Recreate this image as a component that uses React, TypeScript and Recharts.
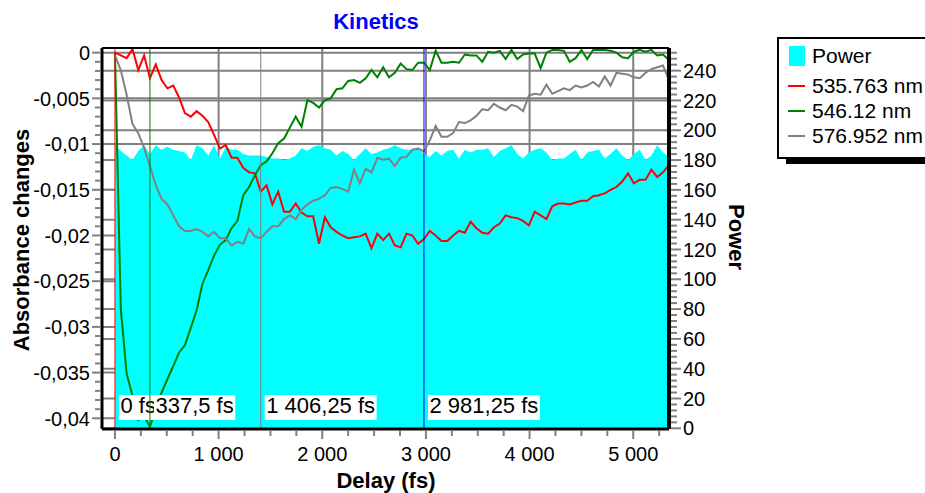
import { ComposedChart, Area, Line, XAxis, YAxis, CartesianGrid, ReferenceLine } from "recharts"

// delay (fs)
const delays = [
  0, 56.25, 112.5, 168.75, 225, 281.25, 337.5, 393.75, 450, 506.25,
  562.5, 618.75, 675, 731.25, 787.5, 843.75, 900, 956.25, 1012.5, 1068.75,
  1125, 1181.25, 1237.5, 1293.75, 1350, 1406.25, 1462.5, 1518.75, 1575, 1631.25,
  1687.5, 1743.75, 1800, 1856.25, 1912.5, 1968.75, 2025, 2081.25, 2137.5, 2193.75,
  2250, 2306.25, 2362.5, 2418.75, 2475, 2531.25, 2587.5, 2643.75, 2700, 2756.25,
  2812.5, 2868.75, 2925, 2981.25, 3037.5, 3093.75, 3150, 3206.25, 3262.5, 3318.75,
  3375, 3431.25, 3487.5, 3543.75, 3600, 3656.25, 3712.5, 3768.75, 3825, 3881.25,
  3937.5, 3993.75, 4050, 4106.25, 4162.5, 4218.75, 4275, 4331.25, 4387.5, 4443.75,
  4500, 4556.25, 4612.5, 4668.75, 4725, 4781.25, 4837.5, 4893.75, 4950, 5006.25,
  5062.5, 5118.75, 5175, 5231.25, 5287.5, 5343.75,
]

const power = [
  190, 186, 183, 180, 186, 190, 184, 190, 187, 189,
  187, 186, 185, 180, 190, 188, 183, 190, 181, 189,
  187, 187, 184, 183, 183, 183, 182, 181, 181, 180,
  181, 183, 188, 186, 189, 190, 188, 187, 183, 186,
  184, 180, 184, 188, 184, 185, 187, 188, 190, 188,
  187, 187, 188, 184, 182, 186, 183, 186, 187, 181,
  187, 185, 187, 187, 188, 182, 186, 188, 190, 184,
  181, 185, 187, 188, 185, 180, 181, 181, 184, 187,
  180, 185, 186, 187, 181, 184, 188, 183, 180, 184,
  187, 180, 183, 190, 185, 182,
]

const nm535 = [
  0, -0.0003, -0.0006, 0.0004, -0.0019, -0.0003, -0.0028, -0.0013, -0.003, -0.0039,
  -0.0036, -0.0049, -0.0066, -0.007, -0.0064, -0.0069, -0.0076, -0.009, -0.0105, -0.0101,
  -0.0115, -0.0115, -0.0126, -0.0131, -0.0132, -0.0152, -0.0145, -0.0166, -0.0152, -0.0174,
  -0.0174, -0.0165, -0.0175, -0.0179, -0.0179, -0.0209, -0.018, -0.0191, -0.0196, -0.02,
  -0.0203, -0.0202, -0.0201, -0.0198, -0.0214, -0.0198, -0.0205, -0.0198, -0.0211, -0.0213,
  -0.0198, -0.02, -0.0209, -0.0204, -0.0195, -0.02, -0.0206, -0.0206, -0.02, -0.0195,
  -0.0197, -0.0185, -0.0192, -0.0197, -0.0198, -0.0191, -0.0187, -0.0178, -0.018, -0.0181,
  -0.0184, -0.0189, -0.0174, -0.0178, -0.0182, -0.0168, -0.0165, -0.0165, -0.0166, -0.0164,
  -0.0162, -0.0162, -0.0157, -0.0156, -0.0154, -0.015, -0.0147, -0.0141, -0.0132, -0.0143,
  -0.0139, -0.0139, -0.0128, -0.0136, -0.0131, -0.0123,
]

const nm546 = [
  0, -0.028, -0.0351, -0.0375, -0.0402, -0.0398, -0.0409, -0.039, -0.0372, -0.0357,
  -0.0343, -0.0328, -0.032, -0.0301, -0.0282, -0.0253, -0.0238, -0.0222, -0.021, -0.0205,
  -0.0192, -0.0184, -0.0156, -0.0147, -0.0134, -0.0123, -0.0119, -0.011, -0.0099, -0.0094,
  -0.0082, -0.007, -0.0081, -0.0052, -0.0055, -0.006, -0.0052, -0.005, -0.004, -0.0039,
  -0.0031, -0.003, -0.0033, -0.0028, -0.0019, -0.0027, -0.0016, -0.0027, -0.0022, -0.0012,
  -0.0018, -0.0019, -0.0011, -0.0011, -0.0019, 0.0002, -0.0011, -0.0011, -0.001, -0.0011,
  -0.0002, -0.0003, -0.0003, -0.001, 0.0001, 0, 0.0002, -0.0007, 0.0003, -0.0007,
  -0.0002, -0.0001, -0.0001, -0.0017, 0, 0.0003, 0.0003, 0.0002, -0.001, -0.0006,
  0.0003, -0.0007, 0.0003, 0.0003, 0.0003, 0.0002, 0, -0.0005, -0.0006, 0.0001,
  0.0003, 0.0001, 0.0003, -0.0003, -0.0002, -0.0008,
]

const nm577 = [
  -0.0003, -0.0019, -0.0046, -0.0078, -0.0088, -0.0104, -0.0124, -0.0145, -0.016, -0.0166,
  -0.0178, -0.019, -0.0195, -0.0195, -0.0193, -0.0196, -0.0201, -0.0196, -0.0203, -0.0203,
  -0.0211, -0.0207, -0.0209, -0.0193, -0.0201, -0.0203, -0.0196, -0.019, -0.019, -0.0182,
  -0.0178, -0.0182, -0.0172, -0.0166, -0.0162, -0.016, -0.0156, -0.0148, -0.0147, -0.0149,
  -0.0152, -0.0128, -0.0143, -0.0127, -0.0131, -0.0115, -0.0117, -0.0116, -0.0124, -0.0115,
  -0.0114, -0.0106, -0.0105, -0.0108, -0.0096, -0.008, -0.0092, -0.0092, -0.0088, -0.0076,
  -0.0077, -0.0074, -0.0069, -0.0062, -0.0063, -0.0056, -0.006, -0.0063, -0.0057, -0.0059,
  -0.0064, -0.0047, -0.0045, -0.0046, -0.0035, -0.0045, -0.0042, -0.0039, -0.0041, -0.0036,
  -0.0038, -0.0036, -0.0032, -0.0037, -0.0026, -0.0036, -0.0022, -0.0023, -0.0024, -0.0027,
  -0.0028, -0.0022, -0.0018, -0.0016, -0.0014, -0.003,
]

const xMajorTicks = [0, 1000, 2000, 3000, 4000, 5000]
const xTickLabels = ["0", "1 000", "2 000", "3 000", "4 000", "5 000"]
const leftMajorTicks = [0, -0.005, -0.01, -0.015, -0.02, -0.025, -0.03, -0.035, -0.04]
const leftTickLabels = ["0", "-0,005", "-0,01", "-0,015", "-0,02", "-0,025", "-0,03", "-0,035", "-0,04"]
const rightMajorTicks = [0, 20, 40, 60, 80, 100, 120, 140, 160, 180, 200, 220, 240]
const rightTickLabels = ["0", "20", "40", "60", "80", "100", "120", "140", "160", "180", "200", "220", "240"]

const markerDelays = [0, 337.5, 1406.25, 2981.25]
const markerLabels = ["0 fs", "337,5 fs", "1 406,25 fs", "2 981,25 fs"]
const markerColors = ["#ff0000", "#008000", "#808080", "#0000ff"]

const FONT = "'Liberation Sans', Arial, sans-serif"

// minor ticks (decoration only)
const xTicks: number[] = []
for (let v = 0; v <= 5250; v += 250) xTicks.push(v)
const leftTicks: number[] = []
for (let k = 0; k <= 40; k++) leftTicks.push(-k / 1000)
const rightTicks: number[] = []
for (let v = 0; v <= 252; v += 4) rightTicks.push(v)

const rows = delays.map((t, i) => ({
  t,
  power: power[i],
  a535: nm535[i],
  a546: nm546[i],
  a577: nm577[i],
}))

const findIdx = (arr: number[], v: number) => arr.findIndex((m) => Math.abs(m - v) < 1e-9)

const XTick = (props: any) => {
  const { x, y, payload } = props
  const i = findIdx(xMajorTicks, payload.value)
  return (
    <g>
      <line x1={x} x2={x} y1={y + 1} y2={y + (i >= 0 ? 10 : 7)} stroke="#808080" strokeWidth={2} />
      {i >= 0 && (
        <text x={x} y={y + 32} textAnchor="middle" fontSize={20} fontFamily={FONT} fill="#000">
          {xTickLabels[i]}
        </text>
      )}
    </g>
  )
}

const LeftTick = (props: any) => {
  const { x, y, payload } = props
  const i = findIdx(leftMajorTicks, payload.value)
  return (
    <g>
      <line x1={x - 2} x2={x - (i >= 0 ? 10 : 7)} y1={y} y2={y} stroke="#808080" strokeWidth={2} />
      {i >= 0 && (
        <text x={x - 12} y={y} dy="0.36em" textAnchor="end" fontSize={20} fontFamily={FONT} fill="#000">
          {leftTickLabels[i]}
        </text>
      )}
    </g>
  )
}

const RightTick = (props: any) => {
  const { x, y, payload } = props
  const i = findIdx(rightMajorTicks, payload.value)
  return (
    <g>
      <line x1={x + 2} x2={x + (i >= 0 ? 12 : 8)} y1={y} y2={y} stroke="#808080" strokeWidth={2} />
      {i >= 0 && (
        <text x={x + 14} y={y} dy="0.36em" textAnchor="start" fontSize={20} fontFamily={FONT} fill="#000">
          {rightTickLabels[i]}
        </text>
      )}
    </g>
  )
}

// rough Arial widths, for the white label boxes
const charW: Record<string, number> = { " ": 0.278, ",": 0.278, f: 0.278, s: 0.5 }
const textWidth = (s: string, size: number) =>
  s.split("").reduce((w, c) => w + (charW[c] ?? 0.556), 0) * size

const markerLabel = (text: string) => (props: any) => {
  const vb = props.viewBox
  if (!vb) return null
  const bottom = vb.y + vb.height
  return (
    <g>
      <rect x={vb.x + 4} y={bottom - 34} width={textWidth(text, 22) + 3} height={25} fill="#ffffff" />
      <text x={vb.x + 5.5} y={bottom - 16} fontSize={22} fontFamily={FONT} fill="#000">
        {text}
      </text>
    </g>
  )
}

function Overlay() {
  return (
    <svg width={925} height={493} style={{ position: "absolute", left: 0, top: 0, pointerEvents: "none" }}>
      <text x={376} y={29} textAnchor="middle" fontSize={22} fontWeight="bold" fill="#0000ff" fontFamily={FONT}>
        Kinetics
      </text>
      <text x={386} y={488} textAnchor="middle" fontSize={22} fontWeight="bold" fill="#000" fontFamily={FONT}>
        Delay (fs)
      </text>
      <text
        transform="translate(29,240) rotate(-90)"
        textAnchor="middle"
        fontSize={22}
        fontWeight="bold"
        fill="#000"
        fontFamily={FONT}
      >
        Absorbance changes
      </text>
      <text
        transform="translate(729,237) rotate(90)"
        textAnchor="middle"
        fontSize={22}
        fontWeight="bold"
        fill="#000"
        fontFamily={FONT}
      >
        Power
      </text>

      {/* legend */}
      <rect x={786} y={43} width={170} height={121} fill="#000" />
      <rect x={778} y={38} width={170} height={120} fill="#fff" stroke="#000" strokeWidth={2} />
      <rect x={789} y={46} width={16} height={20} fill="#00ffff" />
      <text x={812} y={63} fontSize={21} fontFamily={FONT} fill="#000">Power</text>
      <line x1={788} x2={805} y1={86} y2={86} stroke="#ff0000" strokeWidth={2} />
      <text x={812} y={93} fontSize={21} fontFamily={FONT} fill="#000">535.763 nm</text>
      <line x1={788} x2={805} y1={111} y2={111} stroke="#008000" strokeWidth={2} />
      <text x={812} y={118} fontSize={21} fontFamily={FONT} fill="#000">546.12 nm</text>
      <line x1={788} x2={805} y1={136} y2={136} stroke="#808080" strokeWidth={2} />
      <text x={812} y={143} fontSize={21} fontFamily={FONT} fill="#000">576.952 nm</text>
    </svg>
  )
}

export default function App() {
  return (
    <div
      style={{
        position: "absolute",
        left: 0,
        top: 0,
        width: 925,
        height: 493,
        overflow: "hidden",
        background: "#fff",
        fontFamily: FONT,
      }}
    >
      <ComposedChart
        width={925}
        height={493}
        data={rows}
        margin={{ top: 48, right: 196, bottom: 24, left: 0 }}
      >
        <CartesianGrid
          yAxisId="left"
          horizontalValues={leftMajorTicks}
          verticalValues={xMajorTicks.slice(1)}
          stroke="#808080"
          strokeWidth={2}
        />
        <CartesianGrid
          yAxisId="right"
          horizontalValues={rightMajorTicks}
          vertical={false}
          stroke="#808080"
          strokeWidth={2}
        />
        <XAxis
          dataKey="t"
          type="number"
          domain={[-125, 5345]}
          allowDataOverflow
          ticks={xTicks}
          interval={0}
          tickSize={0}
          tickMargin={0}
          tickLine={false}
          tick={XTick}
          axisLine={{ stroke: "#000", strokeWidth: 3 }}
          height={40}
        />
        <YAxis
          yAxisId="left"
          type="number"
          domain={[-0.04117, 0.00051]}
          allowDataOverflow
          ticks={leftTicks}
          interval={0}
          tickSize={0}
          tickMargin={0}
          tickLine={false}
          tick={LeftTick}
          axisLine={{ stroke: "#000", strokeWidth: 3 }}
          width={102}
        />
        <YAxis
          yAxisId="right"
          orientation="right"
          type="number"
          domain={[-0.47, 255.2]}
          allowDataOverflow
          ticks={rightTicks}
          interval={0}
          tickSize={0}
          tickMargin={0}
          tickLine={false}
          tick={RightTick}
          axisLine={{ stroke: "#000", strokeWidth: 4 }}
          width={60}
        />
        <Area
          yAxisId="right"
          dataKey="power"
          name="Power"
          type="linear"
          fill="#00ffff"
          fillOpacity={1}
          stroke="none"
          isAnimationActive={false}
        />
        <Line yAxisId="left" dataKey="a535" name="535.763 nm" type="linear" stroke="#ff0000" strokeWidth={2} dot={false} isAnimationActive={false} />
        <Line yAxisId="left" dataKey="a546" name="546.12 nm" type="linear" stroke="#008000" strokeWidth={2} dot={false} isAnimationActive={false} />
        <Line yAxisId="left" dataKey="a577" name="576.952 nm" type="linear" stroke="#808080" strokeWidth={2} dot={false} isAnimationActive={false} />
        {markerDelays.map((d, i) => (
          <ReferenceLine
            key={d}
            yAxisId="left"
            x={d}
            stroke={markerColors[i]}
            strokeWidth={1}
            label={{ content: markerLabel(markerLabels[i]) } as any}
          />
        ))}
        <ReferenceLine yAxisId="left" y={0.00051} stroke="#000" strokeWidth={2} />
      </ComposedChart>
      <Overlay />
    </div>
  )
}
